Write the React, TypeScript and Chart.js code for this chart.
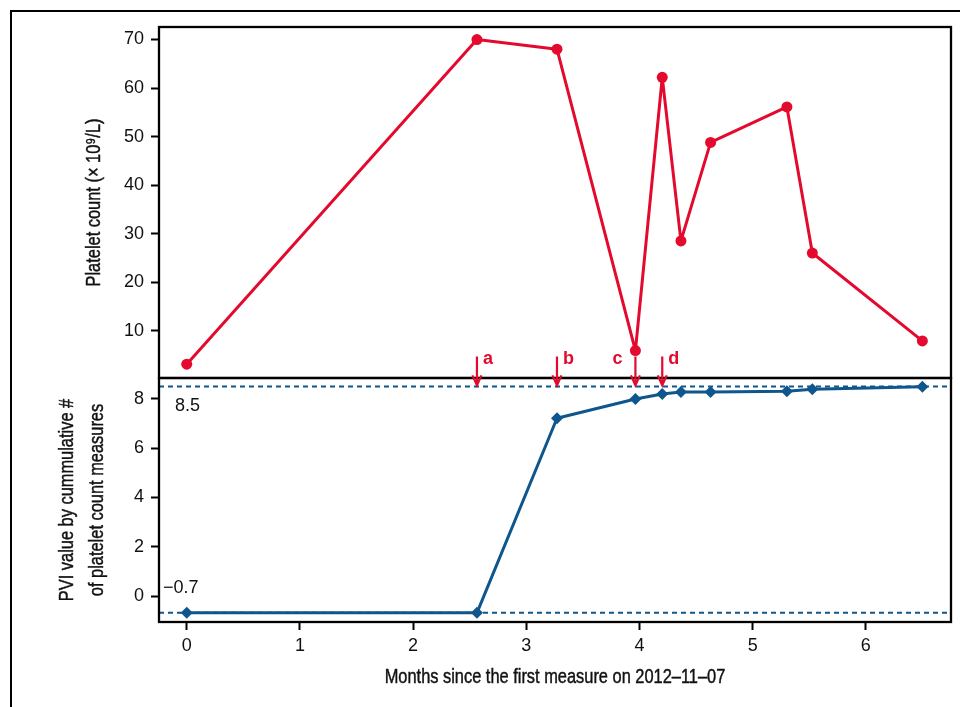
import React, { useEffect, useRef } from 'react';
import { Chart, registerables } from 'chart.js';

Chart.register(...registerables);

// ---- data ----
const months = [0, 2.564, 3.271, 3.964, 4.201, 4.366, 4.628, 5.302, 5.527, 6.499];
const plateletCount = [3.1, 70, 68.0, 5.9, 62.2, 28.5, 48.8, 56.1, 26.0, 7.9];
const pviValues = [-0.68, -0.68, 7.21, 7.99, 8.19, 8.27, 8.27, 8.3, 8.38, 8.49];

const eventMonths = [2.564, 3.271, 3.964, 4.201];
const eventLabels = ['a', 'b', 'c', 'd'];
const eventLabelSide = ['right', 'right', 'left', 'right'];

const pviThresholds = [8.5, -0.68];
const pviThresholdLabels = ['8.5', '\u22120.7'];

const xTicks = [0, 1, 2, 3, 4, 5, 6];
const plateletTicks = [10, 20, 30, 40, 50, 60, 70];
const pviTicks = [0, 2, 4, 6, 8];

const xTitle = 'Months since the first measure on 2012\u201311\u201307';
const plateletTitle = 'Platelet count (\u00d7 10\u2079/L)';
const pviTitle = ['PVI value by cummulative #', 'of platelet count measures'];

// ---- axis ranges ----
const X_MIN = -0.245;
const X_MAX = 6.752;
const PLT_MIN = 0.25;
const PLT_MAX = 72.58;
const PVI_MIN = -1.05;
const PVI_MAX = 8.84;

const RED = '#e30a2e';
const BLUE = '#0f568c';
const TEXT = '#111';
const TICK_FAMILY = "'Liberation Sans', Arial, sans-serif";
const TICK_FONT = { family: TICK_FAMILY, size: 18 };
const TITLE_FONT = `20px ${TICK_FAMILY}`;
const NARROW = 0.82;

const gridOpts = {
  display: true,
  drawOnChartArea: false,
  drawTicks: true,
  tickLength: 8,
  tickColor: '#000',
  tickWidth: 2,
};

function narrowText(ctx: any, text: string, x: number, y: number, rot: number) {
  ctx.save();
  ctx.translate(x, y);
  ctx.rotate(rot);
  ctx.scale(NARROW, 1);
  ctx.strokeText(text, 0, 0);
  ctx.fillText(text, 0, 0);
  ctx.restore();
}

const overlayPlugin = {
  id: 'overlay',
  afterDatasetsDraw(chart: any) {
    const { ctx, chartArea, scales } = chart;
    const xs = scales.x;
    const yTop = scales.y;
    const yBot = scales.y2;
    const w = chartArea.right - chartArea.left;
    ctx.save();
    // panel frames
    ctx.strokeStyle = '#000';
    ctx.lineWidth = 2.3;
    ctx.strokeRect(chartArea.left, yTop.top, w, yTop.bottom - yTop.top);
    ctx.strokeRect(chartArea.left, yBot.top, w, yBot.bottom - yBot.top);

    // axis titles (condensed)
    ctx.fillStyle = TEXT;
    ctx.strokeStyle = TEXT;
    ctx.lineWidth = 0.45;
    ctx.font = TITLE_FONT;
    ctx.textAlign = 'center';
    ctx.textBaseline = 'middle';
    narrowText(ctx, xTitle, (chartArea.left + chartArea.right) / 2, 677.5, 0);
    narrowText(ctx, plateletTitle, 94, (yTop.top + yTop.bottom) / 2, -Math.PI / 2);
    pviTitle.forEach((line, i) => {
      narrowText(ctx, line, 67.5 + i * 30, (yBot.top + yBot.bottom) / 2, -Math.PI / 2);
    });

    // threshold labels
    ctx.font = `18px ${TICK_FAMILY}`;
    ctx.textAlign = 'left';
    pviThresholds.forEach((t, i) => {
      const py = yBot.getPixelForValue(t);
      if (i === 0) ctx.fillText(pviThresholdLabels[i], chartArea.left + 16, py + 20);
      else ctx.fillText(pviThresholdLabels[i], chartArea.left + 4, py - 25);
    });

    // event arrows
    const tipY = yBot.getPixelForValue(pviThresholds[0]);
    ctx.strokeStyle = RED;
    ctx.fillStyle = RED;
    ctx.lineWidth = 2.2;
    ctx.lineJoin = 'miter';
    ctx.font = `bold 18px ${TICK_FAMILY}`;
    eventMonths.forEach((m, i) => {
      const px = xs.getPixelForValue(m);
      ctx.beginPath();
      ctx.moveTo(px, tipY - 30);
      ctx.lineTo(px, tipY - 1.5);
      ctx.moveTo(px - 4.5, tipY - 11);
      ctx.lineTo(px, tipY - 1);
      ctx.lineTo(px + 4.5, tipY - 11);
      ctx.stroke();
      if (eventLabelSide[i] === 'left') {
        ctx.textAlign = 'right';
        ctx.fillText(eventLabels[i], px - 13, tipY - 27);
      } else {
        ctx.textAlign = 'left';
        ctx.fillText(eventLabels[i], px + 6, tipY - 27);
      }
    });
    ctx.restore();
  },
};

export default function App() {
  const ref = useRef<HTMLCanvasElement>(null);

  useEffect(() => {
    const canvas = ref.current;
    if (!canvas) return;
    const chart = new Chart(canvas, {
      type: 'line',
      data: {
        datasets: [
          {
            label: 'Platelet count',
            data: months.map((m, i) => ({ x: m, y: plateletCount[i] })),
            xAxisID: 'x',
            yAxisID: 'y',
            borderColor: RED,
            backgroundColor: RED,
            borderWidth: 3,
            borderJoinStyle: 'round',
            pointRadius: 5.5,
            pointBackgroundColor: RED,
            pointBorderWidth: 0,
            tension: 0,
            order: 0,
          },
          {
            label: 'PVI',
            data: months.map((m, i) => ({ x: m, y: pviValues[i] })),
            xAxisID: 'x',
            yAxisID: 'y2',
            borderColor: BLUE,
            backgroundColor: BLUE,
            borderWidth: 3,
            borderJoinStyle: 'round',
            pointStyle: 'rectRot',
            pointRadius: 6,
            pointBackgroundColor: BLUE,
            pointBorderWidth: 0,
            tension: 0,
            order: 0,
          },
          ...pviThresholds.map((t) => ({
            label: 'threshold',
            data: [
              { x: X_MIN, y: t },
              { x: X_MAX, y: t },
            ],
            xAxisID: 'x',
            yAxisID: 'y2',
            borderColor: BLUE,
            borderWidth: 2,
            borderDash: [5, 4],
            pointRadius: 0,
            tension: 0,
            order: 1,
          })),
        ],
      } as any,
      options: {
        animation: false,
        responsive: false,
        devicePixelRatio: 1,
        events: [],
        layout: { padding: { left: 40, right: 9, top: 27, bottom: 0 } },
        plugins: {
          legend: { display: false },
          tooltip: { enabled: false },
        },
        scales: {
          x: {
            type: 'linear',
            position: 'bottom',
            min: X_MIN,
            max: X_MAX,
            afterBuildTicks: (s: any) => {
              s.ticks = xTicks.map((v) => ({ value: v }));
            },
            afterFit: (s: any) => {
              s.height = 85;
            },
            grid: gridOpts,
            border: { display: false },
            ticks: {
              font: TICK_FONT,
              color: TEXT,
              padding: 5,
              maxRotation: 0,
              autoSkip: false,
              callback: (v: any) => String(v),
            },
            title: { display: false },
          },
          y: {
            type: 'linear',
            position: 'left',
            stack: 'panels',
            stackWeight: 351,
            weight: 2,
            min: PLT_MIN,
            max: PLT_MAX,
            afterBuildTicks: (s: any) => {
              s.ticks = plateletTicks.map((v) => ({ value: v }));
            },
            afterFit: (s: any) => {
              s.width = 119;
            },
            grid: gridOpts,
            border: { display: false },
            ticks: {
              font: TICK_FONT,
              color: TEXT,
              padding: 7,
              autoSkip: false,
              callback: (v: any) => String(v),
            },
            title: { display: false },
          },
          y2: {
            type: 'linear',
            position: 'left',
            stack: 'panels',
            stackWeight: 244,
            weight: 1,
            min: PVI_MIN,
            max: PVI_MAX,
            afterBuildTicks: (s: any) => {
              s.ticks = pviTicks.map((v) => ({ value: v }));
            },
            afterFit: (s: any) => {
              s.width = 119;
            },
            grid: gridOpts,
            border: { display: false },
            ticks: {
              font: TICK_FONT,
              color: TEXT,
              padding: 7,
              autoSkip: false,
              callback: (v: any) => String(v),
            },
            title: { display: false },
          },
        },
      } as any,
      plugins: [overlayPlugin],
    });
    return () => chart.destroy();
  }, []);

  return (
    <div
      style={{
        position: 'fixed',
        left: 0,
        top: 0,
        width: 960,
        height: 707,
        overflow: 'hidden',
        background: '#fff',
      }}
    >
      <div
        style={{
          position: 'absolute',
          left: 10,
          top: 9.5,
          width: 1000,
          height: 800,
          borderLeft: '2.6px solid #000',
          borderTop: '2.6px solid #000',
        }}
      />
      <canvas
        ref={ref}
        width={960}
        height={707}
        style={{ position: 'absolute', left: 0, top: 0, width: 960, height: 707 }}
      />
    </div>
  );
}
